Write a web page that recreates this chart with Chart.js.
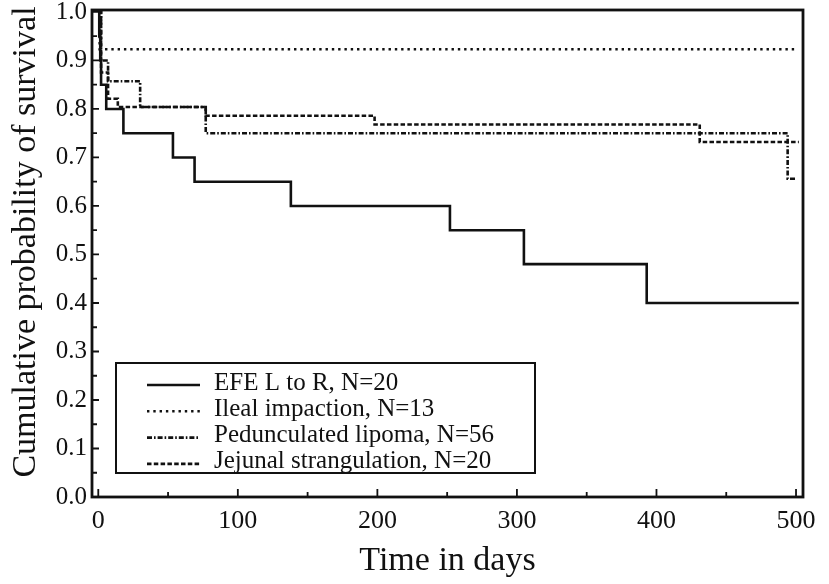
<!DOCTYPE html>
<html>
<head>
<meta charset="utf-8">
<script src="https://cdn.jsdelivr.net/npm/chart.js@4.4.1/dist/chart.umd.min.js"></script>
<style>
  html, body { margin: 0; padding: 0; background: #fff; }
  #wrap { width: 829px; height: 584px; }
</style>
</head>
<body>
<div id="wrap"><canvas id="chart"></canvas></div>
<script>
// survival curves: day of each step, survival after the step
const efeDays = [0, 0.7, 1.4, 2, 5.7, 18, 53.5, 69, 138, 252, 305, 393, 502];
const efeSurv = [1.0, 0.95, 0.90, 0.85, 0.80, 0.75, 0.70, 0.65, 0.60, 0.55, 0.48, 0.40, 0.40];

const ilealDays = [0, 1, 500];
const ilealSurv = [1.0, 0.923, 0.923];

const lipomaDays = [0, 2, 7, 30, 77, 494, 500];
const lipomaSurv = [1.0, 0.90, 0.857, 0.804, 0.75, 0.656, 0.656];

const jejunalDays = [0, 2, 7, 14, 77, 198, 431, 502];
const jejunalSurv = [1.0, 0.875, 0.821, 0.804, 0.786, 0.768, 0.732, 0.732];

const seriesNames = [
    "EFE L to R, N=20",
    "Ileal impaction, N=13",
    "Pedunculated lipoma, N=56",
    "Jejunal strangulation, N=20"
];

const xTicks = [0, 100, 200, 300, 400, 500];
const xMinorTicks = [0, 50, 100, 150, 200, 250, 300, 350, 400, 450, 500];
const yTicks = [0.0, 0.1, 0.2, 0.3, 0.4, 0.5, 0.6, 0.7, 0.8, 0.9, 1.0];
const yMinorTicks = [0.05, 0.15, 0.25, 0.35, 0.45, 0.55, 0.65, 0.75, 0.85, 0.95];

const yTitle = "Cumulative probability of survival";

const ink = "#111";
const serif = "'Liberation Serif', 'Times New Roman', serif";

function toPoints(days, surv) {
    return days.map((d, i) => ({ x: d, y: surv[i] }));
}

// frame round the plot and inward tick marks
const frame = {
    id: 'frame',
    afterDatasetsDraw(chart) {
        const { ctx, chartArea: a, scales } = chart;
        ctx.save();
        ctx.strokeStyle = ink;
        ctx.lineWidth = 1.8;
        ctx.beginPath();
        xMinorTicks.forEach(v => {
            const px = scales.x.getPixelForValue(v);
            const len = xTicks.includes(v) ? 8 : 5;
            ctx.moveTo(px, a.bottom);
            ctx.lineTo(px, a.bottom - len);
        });
        yTicks.concat(yMinorTicks).forEach(v => {
            const py = scales.y.getPixelForValue(v);
            const len = yTicks.includes(v) ? 7 : 5;
            ctx.moveTo(a.left, py);
            ctx.lineTo(a.left + len, py);
        });
        ctx.stroke();
        ctx.lineWidth = 2.8;
        ctx.strokeRect(a.left, a.top, a.right - a.left, a.bottom - a.top);

        // y axis title, sits a little above the plot centre in the original
        ctx.save();
        ctx.translate(26, 242);
        ctx.rotate(-Math.PI / 2);
        ctx.font = "34px " + serif;
        ctx.fillStyle = ink;
        ctx.textAlign = 'center';
        ctx.textBaseline = 'middle';
        ctx.fillText(yTitle, 0, 0);
        ctx.restore();
        ctx.restore();
    }
};

// boxed legend inside the plot, bottom left
const boxLegend = {
    id: 'boxLegend',
    afterDraw(chart) {
        const ctx = chart.ctx;
        const bx = 116, by = 363, bw = 419, bh = 110;
        ctx.save();
        ctx.fillStyle = '#fff';
        ctx.fillRect(bx, by, bw, bh);
        ctx.strokeStyle = ink;
        ctx.lineWidth = 2;
        ctx.strokeRect(bx, by, bw, bh);

        ctx.font = "25px " + serif;
        ctx.textBaseline = 'middle';
        ctx.fillStyle = ink;
        chart.data.datasets.forEach((ds, i) => {
            const y = by + 20 + i * 26.3;
            ctx.beginPath();
            ctx.setLineDash(ds.borderDash || []);
            ctx.lineWidth = ds.borderWidth;
            ctx.moveTo(147, y + 2);
            ctx.lineTo(200, y + 2);
            ctx.stroke();
            ctx.setLineDash([]);
            ctx.fillText(seriesNames[i], 214, y);
        });
        ctx.restore();
    }
};

new Chart(document.getElementById('chart'), {
    type: 'line',
    data: {
        datasets: [
            {
                label: seriesNames[0],
                data: toPoints(efeDays, efeSurv),
                borderWidth: 2.6
            },
            {
                label: seriesNames[1],
                data: toPoints(ilealDays, ilealSurv),
                borderWidth: 2.6,
                borderDash: [2.4, 3.9]
            },
            {
                label: seriesNames[2],
                data: toPoints(lipomaDays, lipomaSurv),
                borderWidth: 2.6,
                borderDash: [5, 2, 1.6, 2]
            },
            {
                label: seriesNames[3],
                data: toPoints(jejunalDays, jejunalSurv),
                borderWidth: 2.6,
                borderDash: [4.5, 2.3]
            }
        ].map(ds => Object.assign(ds, {
            borderColor: ink,
            backgroundColor: ink,
            stepped: true,
            pointRadius: 0,
            fill: false,
            tension: 0
        }))
    },
    options: {
        responsive: true,
        maintainAspectRatio: false,
        animation: false,
        layout: { padding: { left: 0, top: 10, right: 26, bottom: 0 } },
        plugins: {
            legend: { display: false },
            tooltip: { enabled: false }
        },
        scales: {
            x: {
                type: 'linear',
                min: -4.5,
                max: 505,
                grid: { display: false, drawTicks: false },
                border: { display: false },
                afterBuildTicks: s => { s.ticks = xTicks.map(v => ({ value: v })); },
                afterFit: s => { s.height = 87; s.paddingLeft = 0; s.paddingRight = 0; },
                ticks: {
                    padding: 9,
                    maxRotation: 0,
                    color: ink,
                    font: { family: serif, size: 26 },
                    callback: v => String(v)
                },
                title: {
                    display: true,
                    text: 'Time in days',
                    color: ink,
                    font: { family: serif, size: 34, lineHeight: 1 },
                    padding: { top: 0, bottom: 6 }
                }
            },
            y: {
                type: 'linear',
                min: 0,
                max: 1.004,
                grid: { display: false, drawTicks: false },
                border: { display: false },
                afterBuildTicks: s => { s.ticks = yTicks.map(v => ({ value: v })); },
                afterFit: s => { s.width = 92; s.paddingTop = 0; s.paddingBottom = 0; },
                ticks: {
                    padding: 5,
                    color: ink,
                    font: { family: serif, size: 25 },
                    callback: v => v.toFixed(1)
                }
            }
        }
    },
    plugins: [frame, boxLegend]
});
</script>
</body>
</html>
